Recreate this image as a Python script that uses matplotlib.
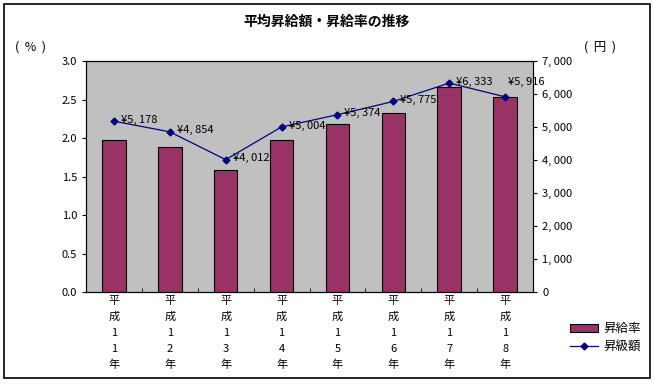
import matplotlib.pyplot as plt
from matplotlib.patches import Rectangle

plt.rcParams['font.family'] = ['Noto Sans CJK JP', 'DejaVu Sans']

years = ['平\n成\n1\n1\n年', '平\n成\n1\n2\n年', '平\n成\n1\n3\n年', '平\n成\n1\n4\n年',
         '平\n成\n1\n5\n年', '平\n成\n1\n6\n年', '平\n成\n1\n7\n年', '平\n成\n1\n8\n年']
rate = [1.97, 1.88, 1.58, 1.97, 2.18, 2.32, 2.66, 2.53]
amount = [5178, 4854, 4012, 5004, 5374, 5775, 6333, 5916]

fig = plt.figure(figsize=(6.54, 3.84), dpi=100)
fig.patches.append(Rectangle((0.006, 0.015), 0.988, 0.975, transform=fig.transFigure,
                             fill=False, edgecolor='black', linewidth=1.2))

ax = fig.add_axes([0.1315, 0.2396, 0.6835, 0.6014])
ax.set_facecolor('#C0C0C0')
x = list(range(len(years)))
bars = ax.bar(x, rate, width=0.42, color='#993366', edgecolor='black', linewidth=0.8,
              label='昇給率', zorder=2)
ax.set_xlim(-0.5, len(years) - 0.5)
ax.set_ylim(0, 3.0)
ax.set_yticks([0, 0.5, 1.0, 1.5, 2.0, 2.5, 3.0])
ax.set_yticklabels(['%.1f' % v for v in [0, 0.5, 1.0, 1.5, 2.0, 2.5, 3.0]], fontsize=8)
ax.set_xticks(x)
ax.set_xticklabels(years, fontsize=8, linespacing=1.72)
ax.set_xticks([i + 0.5 for i in x[:-1]], minor=True)
ax.tick_params(axis='x', which='major', length=0, pad=3)
ax.tick_params(axis='x', which='minor', length=3, direction='in')
ax.tick_params(axis='y', length=3)
for s in ax.spines.values():
    s.set_linewidth(0.8)

ax2 = ax.twinx()
line, = ax2.plot(x, amount, color='#000080', marker='D', markersize=3.5, linewidth=0.9,
                 label='昇級額', zorder=3)
ax2.set_ylim(0, 7000)
ax2.set_yticks(range(0, 7001, 1000))
ax2.set_yticklabels(['0'] + ['{:,}'.format(v).replace(',', ', ') for v in range(1000, 7001, 1000)],
                    fontsize=8)
ax2.tick_params(axis='y', length=3)
for i, (xi, v) in enumerate(zip(x, amount)):
    off = (2, 11) if i == len(x) - 1 else (5, 1)
    ax2.annotate('¥{:,}'.format(v).replace(',', ', '), (xi, v), xytext=off,
                 textcoords='offset points', fontsize=8, ha='left', va='center')

fig.text(0.5, 0.943, '平均昇給額・昇給率の推移', ha='center', va='center',
         fontsize=10, fontweight='bold')
fig.text(0.046, 0.877, '(  %  )', ha='center', va='center', fontsize=9)
fig.text(0.918, 0.877, '(  円  )', ha='center', va='center', fontsize=9)

fig.legend(handles=[bars, line], labels=['昇給率', '昇級額'], loc='center left',
           bbox_to_anchor=(0.855, 0.12), frameon=False, fontsize=9,
           handlelength=2.2, handletextpad=0.4, labelspacing=0.4)

fig.savefig('out.png', dpi=100)
